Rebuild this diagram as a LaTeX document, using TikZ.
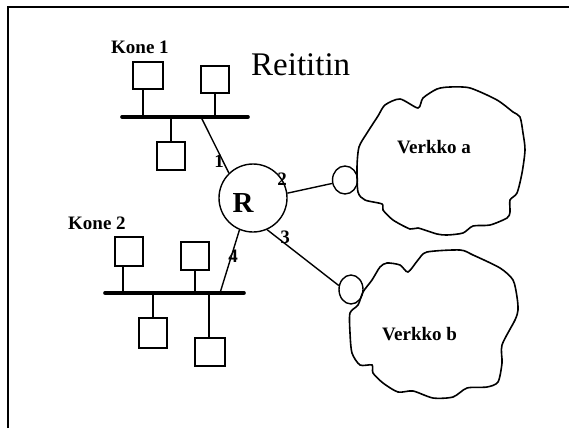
\documentclass[tikz,border=0pt]{standalone}
\usepackage{fontspec}
\setmainfont{Liberation Serif}
\usetikzlibrary{shapes.geometric,calc}
\tikzset{
  box/.style={draw,line width=1.4pt,minimum width=28pt,minimum height=28pt,inner sep=0pt},
  wire/.style={line width=1.4pt},
  bus/.style={line width=3.6pt,line cap=round},
  lbl/.style={font=\bfseries\fontsize{19}{19}\selectfont,inner sep=0pt,anchor=base west},
  num/.style={font=\bfseries\fontsize{19}{19}\selectfont,inner sep=0pt,anchor=base},
  port/.style={draw,ellipse,line width=1.4pt,inner sep=0pt},
  cloud/.style={line width=1.6pt}
}
\begin{document}
\begin{tikzpicture}[x=1pt,y=-1pt]
\useasboundingbox (0,0) rectangle (569,428);
% frame
\draw[line width=2pt] (8,428) -- (8,7) -- (569,7);
% title
\node[font=\fontsize{33}{33}\selectfont,inner sep=0pt,anchor=base west] (title) at (251,75) {Reititin};
% Kone 1 segment
\node[lbl] (kone1) at (111,53) {Kone 1};
\coordinate (b1w) at (122,117);
\coordinate (b1e) at (248,117);
\draw[bus] (b1w) -- (b1e);
\node[box,minimum width=30pt,minimum height=27pt] (k1a) at (148,75.5) {};
\node[box,minimum height=27pt] (k1b) at (215,79.5) {};
\node[box] (k1c) at (171,156) {};
\draw[wire] ($(k1a.south)+(-5,0)$) -- ($(k1a.south |- b1w)+(-5,0)$);
\draw[wire] (k1b.south) -- (k1b.south |- b1w);
\draw[wire] (k1c.north) -- (k1c.north |- b1w);
% router
\node[draw,circle,line width=1.4pt,minimum size=68pt,inner sep=0pt] (R) at (253,198) {};
\node[font=\bfseries\fontsize{29}{29}\selectfont,inner sep=0pt,anchor=base] (Rtxt) at (243,212) {R};
\coordinate (tap1) at (201,117);
\draw[wire] (tap1) -- (R.134);
\node[num] (n1) at (219,167) {1};
% Kone 2 segment
\node[lbl] (kone2) at (68,229) {Kone 2};
\coordinate (b2w) at (105,293);
\coordinate (b2e) at (244,293);
\draw[bus] (b2w) -- (b2e);
\node[box,minimum height=29pt] (k2a) at (129,251.5) {};
\node[box] (k2b) at (195,256) {};
\node[box,minimum height=30pt] (k2c) at (153,333) {};
\node[box,minimum width=30pt] (k2d) at (210,352) {};
\draw[wire] ($(k2a.south)+(-6,0)$) -- ($(k2a.south |- b2w)+(-6,0)$);
\draw[wire] (k2b.south) -- (k2b.south |- b2w);
\draw[wire] (k2c.north) -- (k2c.north |- b2w);
\draw[wire] ($(k2d.north)+(-1,0)$) -- ($(k2d.north |- b2w)+(-1,0)$);
\coordinate (tap4) at (220,293);
\draw[wire] (R.247) -- (tap4);
\node[num] (n4) at (233,262) {4};
% networks
\node[port,minimum width=25pt,minimum height=28pt] (ea) at (345,180) {};
\node[port,minimum width=24pt,minimum height=29pt] (eb) at (351,289.5) {};
\draw[wire] (R.8) -- (ea.195);
\node[num] (n2) at (282,185) {2};
\draw[wire] (R.294) -- (eb.162);
\node[num] (n3) at (285,243) {3};
% cloud a
\draw[cloud] plot[smooth cycle,tension=0.45] coordinates {
 (385,105) (400,99) (418,108) (423,98) (437,89) (450,87) (470,88) (497,100)
 (513,112) (520,117) (523,133) (525,150) (522,173) (517,193) (510,200)
 (510,212) (507,218) (490,225) (473,226) (463,233) (447,235) (437,234)
 (418,228) (410,229) (393,220) (383,210) (382,204) (365,200) (358,192)
 (357,167) (359,147) (367,133) (378,116)};
\node[lbl] (va) at (397,153) {Verkko a};
% cloud b
\draw[cloud] plot[smooth cycle,tension=0.45] coordinates {
 (408,272) (418,260) (427,252) (460,250) (473,255) (500,268) (513,280)
 (517,297) (518,310) (515,320) (502,345) (502,363) (498,382) (487,387)
 (467,388) (453,397) (433,398) (413,391) (398,392) (383,383) (373,373)
 (372,365) (360,365) (352,353) (350,333) (350,313) (358,305) (363,292)
 (372,280) (380,267) (387,263) (400,265)};
\node[lbl] (vb) at (382,340) {Verkko b};
\end{tikzpicture}
\end{document}
